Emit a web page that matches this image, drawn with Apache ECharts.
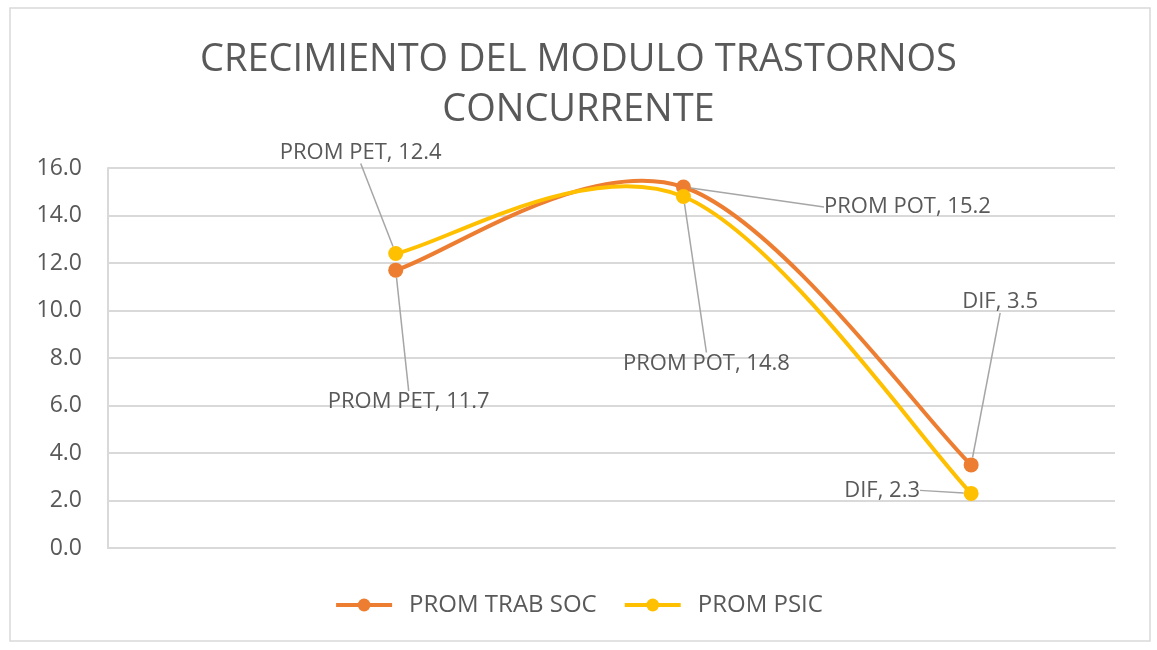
<!DOCTYPE html>
<html>
<head>
<meta charset="utf-8">
<style>
  html, body { margin: 0; padding: 0; background: #fff; }
  #chart { width: 1157px; height: 650px; }
</style>
<script src="https://cdn.jsdelivr.net/npm/echarts@6/dist/echarts.min.js"></script>
</head>
<body>
<div id="chart"></div>
<script>
// categories (x = 1, 2, 3 like an Excel scatter)
const categories = ['PROM PET', 'PROM POT', 'DIF']
const trabSoc = [11.7, 15.2, 3.5]
const psic = [12.4, 14.8, 2.3]
const yTicks = [0, 2, 4, 6, 8, 10, 12, 14, 16]

// label offsets from the point (px), per series / point
const labelOffsets = [
  [[13, 132], [224, 20], [29, -163]],
  [[-35, -101], [23, 167], [-89, -3]]
]

const orange = '#ED7D31'
const yellow = '#FFC000'
const textColor = '#595959'
const gridColor = '#D9D9D9'
const font = "'Open Sans', 'Noto Sans', sans-serif"

const chart = echarts.init(document.getElementById('chart'))

function toPairs(values) {
  return values.map((v, i) => [i + 1, v])
}

// Excel-style smoothed scatter line (catmull-rom, 1/6 tangents), built from api.coord
function curveSeries(values, color) {
  return {
    type: 'custom',
    name: '_curve',
    coordinateSystem: 'cartesian2d',
    data: toPairs(values),
    silent: true,
    z: 1,
    renderItem: function (params, api) {
      if (params.dataIndex !== 0) return null
      const pts = toPairs(values).map(p => api.coord(p))
      const n = pts.length
      const children = []
      for (let i = 0; i < n - 1; i++) {
        const p0 = pts[Math.max(i - 1, 0)]
        const p1 = pts[i]
        const p2 = pts[i + 1]
        const p3 = pts[Math.min(i + 2, n - 1)]
        children.push({
          type: 'bezierCurve',
          shape: {
            x1: p1[0], y1: p1[1],
            cpx1: p1[0] + (p2[0] - p0[0]) / 6, cpy1: p1[1] + (p2[1] - p0[1]) / 6,
            cpx2: p2[0] - (p3[0] - p1[0]) / 6, cpy2: p2[1] - (p3[1] - p1[1]) / 6,
            x2: p2[0], y2: p2[1]
          },
          style: { fill: null, stroke: color, lineWidth: 4, lineCap: 'round' }
        })
      }
      return { type: 'group', children: children }
    }
  }
}

function pointSeries(name, values, color) {
  return {
    name: name,
    type: 'line',
    data: toPairs(values),
    symbol: 'circle',
    symbolSize: 15,
    z: 3,
    itemStyle: { color: color },
    lineStyle: { color: color, width: 4, opacity: 0 },
    label: {
      show: true,
      position: 'inside',
      color: textColor,
      fontFamily: font,
      fontSize: 22,
      formatter: p => categories[p.dataIndex] + ', ' + p.value[1].toFixed(1)
    },
    labelLine: {
      show: true,
      lineStyle: { color: '#A6A6A6', width: 1.5 }
    },
    labelLayout: function (params) {
      const o = labelOffsets[params.seriesIndex - 2][params.dataIndex]
      return { dx: o[0], dy: o[1] }
    },
    emphasis: { disabled: true }
  }
}

chart.setOption({
  animation: false,
  backgroundColor: '#fff',
  graphic: [{
    type: 'rect',
    shape: { x: 10, y: 8, width: 1140, height: 633 },
    style: { fill: 'none', stroke: gridColor, lineWidth: 1.5 },
    silent: true,
    z: -1
  }],
  title: {
    text: 'CRECIMIENTO DEL MODULO TRASTORNOS\nCONCURRENTE',
    left: 'center',
    top: 30,
    textStyle: {
      color: textColor,
      fontFamily: font,
      fontWeight: 'normal',
      fontSize: 38,
      lineHeight: 50
    }
  },
  legend: {
    bottom: 28,
    left: 'center',
    itemWidth: 56,
    itemHeight: 16,
    itemGap: 26,
    textStyle: { color: textColor, fontFamily: font, fontSize: 24, padding: [0, 0, 0, 12] },
    data: [
      { name: 'PROM TRAB SOC', lineStyle: { color: orange, width: 4, opacity: 1 } },
      { name: 'PROM PSIC', lineStyle: { color: yellow, width: 4, opacity: 1 } }
    ]
  },
  grid: { left: 108, right: 42, top: 168, bottom: 102, containLabel: false },
  xAxis: {
    type: 'value',
    min: 0,
    max: 3.5,
    axisLine: { show: true, lineStyle: { color: gridColor, width: 2 } },
    axisTick: { show: false },
    axisLabel: { show: false },
    splitLine: { show: false }
  },
  yAxis: {
    type: 'value',
    min: yTicks[0],
    max: yTicks[yTicks.length - 1],
    interval: 2,
    axisLine: { show: true, lineStyle: { color: gridColor, width: 2 } },
    axisTick: { show: false },
    axisLabel: {
      color: textColor,
      fontFamily: font,
      fontSize: 23,
      margin: 26,
      formatter: v => v.toFixed(1)
    },
    splitLine: { lineStyle: { color: gridColor, width: 2 } }
  },
  series: [
    curveSeries(trabSoc, orange),
    curveSeries(psic, yellow),
    pointSeries('PROM TRAB SOC', trabSoc, orange),
    pointSeries('PROM PSIC', psic, yellow)
  ]
})
</script>
</body>
</html>
